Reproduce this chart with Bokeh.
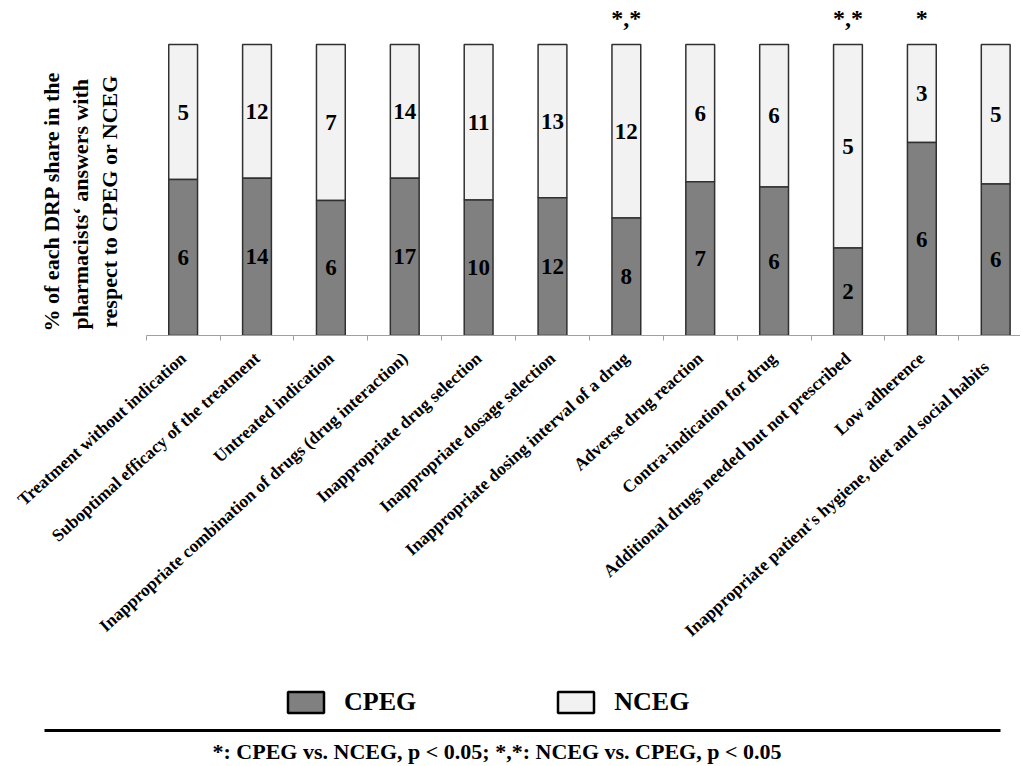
import math
from bokeh.plotting import figure
from bokeh.layouts import column
from bokeh.models import Range1d, FixedTicker, Label, Legend, LegendItem, ColumnDataSource
from bokeh.core.properties import value
from bokeh.embed import file_html
from bokeh.resources import INLINE

categories = [
    "Treatment without indication",
    "Suboptimal efficacy of the treatment",
    "Untreated indication",
    "Inappropriate combination of drugs (drug interaction)",
    "Inappropriate drug selection",
    "Inappropriate dosage selection",
    "Inappropriate dosing interval of a drug",
    "Adverse drug reaction",
    "Contra-indication for drug",
    "Additional drugs needed but not prescribed",
    "Low adherence",
    "Inappropriate  patient's  hygiene, diet and  social habits",
]
cpeg_n = [6, 14, 6, 17, 10, 12, 8, 7, 6, 2, 6, 6]
nceg_n = [5, 12, 7, 14, 11, 13, 12, 6, 6, 5, 3, 5]
cpeg_pct = [53.6, 54.0, 46.4, 54.0, 46.6, 47.3, 40.4, 52.8, 51.0, 30.1, 66.3, 52.1]
significance = ["", "", "", "", "", "", "*,*", "", "", "*,*", "*", ""]
ylabel_lines = ["% of each DRP share in the", "pharmacists\u2018  answers with", "respect to CPEG or NCEG"]
footnote = "*: CPEG vs. NCEG, p < 0.05; *,*: NCEG vs. CPEG, p < 0.05"

FONT = "Liberation Serif"
DARK = "#808080"
LIGHT = "#f2f2f2"

n = len(categories)
xs = [i + 0.5 for i in range(n)]
total = [100.0] * n
nceg_mid = [(c + 100.0) / 2 for c in cpeg_pct]
cpeg_mid = [c / 2 for c in cpeg_pct]

src = ColumnDataSource(dict(x=xs, cpeg=cpeg_pct, total=total,
                            cpeg_mid=cpeg_mid, nceg_mid=nceg_mid,
                            cpeg_n=[str(v) for v in cpeg_n],
                            nceg_n=[str(v) for v in nceg_n],
                            sig=significance, sig_y=[109.2] * n))

W = 1020
H1 = 672
H2 = 92
AXIS_Y = 335          # page y of the category axis
PX_PER_PCT = 2.91
px_per_cat = 73.87
x0_px = 145.7         # page x of the first category boundary
x_left = -x0_px / px_per_cat
x_right = (W - x0_px) / px_per_cat
y_top = AXIS_Y / PX_PER_PCT

p = figure(width=W, height=H1, output_backend="svg", toolbar_location=None,
           x_range=Range1d(x_left, x_right), y_range=Range1d(0, y_top),
           y_axis_location=None, min_border_left=0, min_border_right=0,
           min_border_top=0, min_border_bottom=H1 - AXIS_Y)
p.outline_line_color = None
p.grid.visible = False
p.background_fill_color = "white"
p.border_fill_color = "white"

p.vbar(x="x", bottom="cpeg", top="total", width=0.39, source=src,
       fill_color=LIGHT, line_color="#303030", line_width=1.5)
p.vbar(x="x", bottom=0, top="cpeg", width=0.39, source=src,
       fill_color=DARK, line_color="#303030", line_width=1.5)

p.text(x="x", y="cpeg_mid", text="cpeg_n", source=src, text_align="center",
       text_baseline="middle", text_font=value(FONT), text_font_style="bold",
       text_font_size="23px", text_color="black")
p.text(x="x", y="nceg_mid", text="nceg_n", source=src, text_align="center",
       text_baseline="middle", text_font=value(FONT), text_font_style="bold",
       text_font_size="23px", text_color="black")
p.text(x="x", y="sig_y", text="sig", source=src, text_align="center",
       text_baseline="alphabetic", text_font=value(FONT), text_font_style="bold",
       text_font_size="24px", text_color="black")

ax = p.xaxis[0]
ax.ticker = FixedTicker(ticks=xs, minor_ticks=list(range(n + 1)))
ax.major_label_overrides = {x: c for x, c in zip(xs, categories)}
ax.major_tick_line_color = None
ax.major_tick_out = 5
ax.major_tick_in = 0
ax.minor_tick_line_color = "#a0a0a0"
ax.minor_tick_out = 5
ax.minor_tick_in = 0
ax.axis_line_color = "#a0a0a0"
ax.bounds = (0, x_right)
ax.major_label_orientation = math.radians(42)
ax.major_label_standoff = 15
ax.major_label_text_font = FONT
ax.major_label_text_font_style = "bold"
ax.major_label_text_font_size = "17.5px"
ax.major_label_text_color = "black"

ylab_px = [51, 80, 109]
for lx_px, txt in zip(ylab_px, ylabel_lines):
    p.add_layout(Label(x=(lx_px - x0_px) / px_per_cat, y=(AXIS_Y - 201) / PX_PER_PCT,
                       text=txt, angle=math.pi / 2,
                       text_align="center", text_baseline="alphabetic",
                       text_font=FONT, text_font_style="bold",
                       text_font_size="22px", text_color="black"))

# footer: legend, rule, footnote (page-pixel coordinates)
p2 = figure(width=W, height=H2, output_backend="svg", toolbar_location=None,
            x_range=Range1d(0, W), y_range=Range1d(H1 + H2, H1),
            x_axis_location=None, y_axis_location=None,
            min_border=0)
p2.outline_line_color = None
p2.grid.visible = False
proxy = ColumnDataSource(dict(x=[W + 500], top=[H1 + 10], bottom=[H1 + 10]))
r1 = p2.vbar(x="x", top="top", bottom="bottom", width=1, source=proxy,
             fill_color=DARK, line_color="black", line_width=2.5)
r2 = p2.vbar(x="x", top="top", bottom="bottom", width=1, source=proxy,
             fill_color=LIGHT, line_color="black", line_width=2.5)
leg = Legend(items=[LegendItem(label="CPEG", renderers=[r1]),
                    LegendItem(label="NCEG", renderers=[r2])],
             orientation="horizontal", location=(283, H1 + H2 - 717),
             glyph_width=45, glyph_height=26, label_standoff=16, spacing=137,
             padding=0, margin=0, border_line_color=None,
             background_fill_alpha=0,
             label_text_font=FONT, label_text_font_style="bold",
             label_text_font_size="26px", label_text_color="black")
p2.add_layout(leg, "center")
p2.line(x=[44, 1000], y=[730, 730], line_width=3, line_color="black")
p2.add_layout(Label(x=496.5, y=751, text=footnote, text_align="center",
                    text_baseline="middle", text_font=FONT,
                    text_font_style="bold", text_font_size="22px",
                    text_color="black"))

layout = column(p, p2, spacing=0)
open("out.html", "w").write(file_html(layout, INLINE))
